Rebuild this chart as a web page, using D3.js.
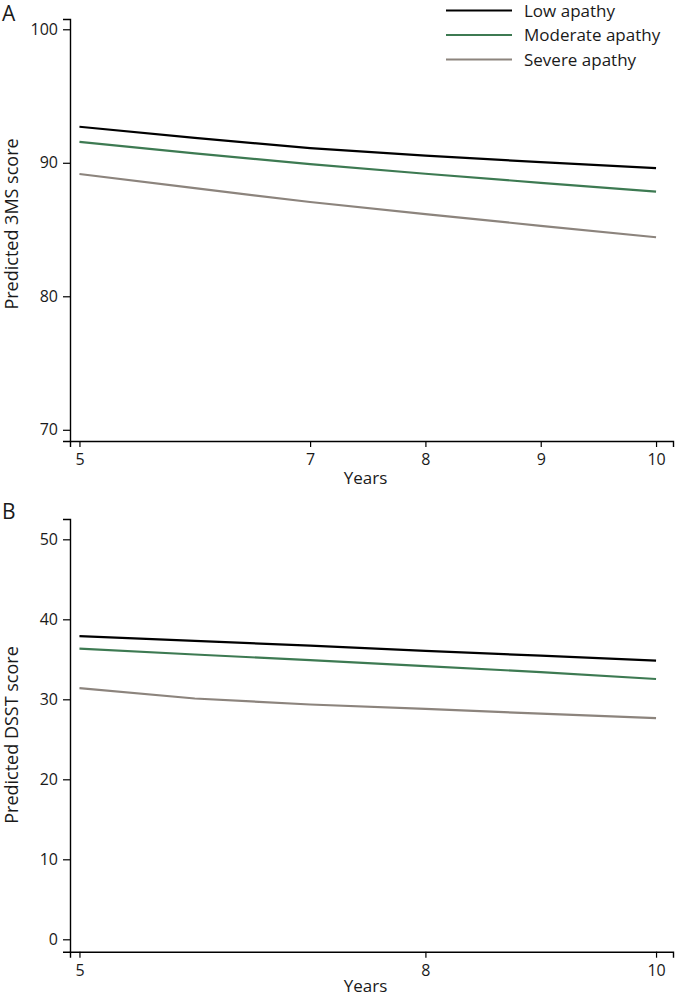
<!DOCTYPE html>
<html>
<head>
<meta charset="utf-8">
<script src="https://cdn.jsdelivr.net/npm/d3@7"></script>
<style>
  html, body { margin: 0; padding: 0; background: #fff; }
  svg text { font-family: "Open Sans", "Noto Sans", sans-serif; fill: #1a1a1a; }
</style>
</head>
<body>
<svg id="chart" width="675" height="996"></svg>
<script>
// ---- data ----
const years = [5, 6, 7, 8, 9, 10];
const seriesNames = ["Low apathy", "Moderate apathy", "Severe apathy"];
const seriesColors = ["#000000", "#3d7a52", "#8c847d"];

// Panel A: Predicted 3MS score
const lowA      = [92.7, 91.86, 91.1, 90.53, 90.05, 89.6];
const moderateA = [91.56, 90.7, 89.9, 89.18, 88.5, 87.84];
const severeA   = [89.16, 88.1, 87.06, 86.15, 85.28, 84.42];
const yTicksA = [70, 80, 90, 100];
const xTicksA = [5, 7, 8, 9, 10];

// Panel B: Predicted DSST score
const lowB      = [37.9, 37.3, 36.7, 36.05, 35.45, 34.83];
const moderateB = [36.33, 35.6, 34.9, 34.15, 33.4, 32.54];
const severeB   = [31.41, 30.1, 29.35, 28.8, 28.2, 27.66];
const yTicksB = [0, 10, 20, 30, 40, 50];
const xTicksB = [5, 8, 10];

const svg = d3.select("#chart");

function panel(cfg) {
  const g = svg.append("g");
  const x = d3.scaleLinear().domain([4.918, 10.147]).range([70, 673]);
  const y = d3.scaleLinear().domain(cfg.yDomain).range([cfg.bottom, cfg.top]);

  const xAxis = g.append("g")
    .attr("transform", `translate(0,${cfg.bottom})`)
    .call(d3.axisBottom(x).tickValues(cfg.xTicks).tickSizeOuter(0).tickSize(6).tickPadding(7).tickFormat(d3.format("d")));
  const yAxis = g.append("g")
    .attr("transform", "translate(70,0)")
    .call(d3.axisLeft(y).tickValues(cfg.yTicks).tickSizeOuter(0).tickSize(7).tickPadding(5).tickFormat(d3.format("d")));
  [xAxis, yAxis].forEach(a => {
    a.selectAll("path.domain").attr("stroke", "#000").attr("stroke-width", 1.4);
    a.selectAll(".tick line").attr("stroke", "#000").attr("stroke-width", 1.2);
    a.selectAll(".tick text").style("font-size", "16px").attr("fill", "#1a1a1a");
  });

  const line = d3.line().x((d, i) => x(years[i])).y(d => y(d));
  cfg.series.forEach((s, i) => {
    g.append("path").datum(s)
      .attr("d", line)
      .attr("fill", "none")
      .attr("stroke", seriesColors[i])
      .attr("stroke-width", 2.2);
  });

  g.append("text")
    .attr("x", (x(4.918) + x(10.147)) / 2 - 6)
    .attr("y", cfg.bottom + cfg.yearsOffset)
    .attr("text-anchor", "middle")
    .style("font-size", "17px")
    .text("Years");

  g.append("text")
    .attr("transform", `translate(18,${cfg.labelY}) rotate(-90)`)
    .attr("text-anchor", "middle")
    .style("font-size", "18px")
    .text(cfg.yLabel);

  g.append("text")
    .attr("x", 2)
    .attr("y", cfg.letterY)
    .style("font-size", "21px")
    .text(cfg.letter);
}

panel({
  top: 19, bottom: 441, yDomain: [69.16, 100.77],
  yTicks: yTicksA, xTicks: xTicksA,
  series: [lowA, moderateA, severeA],
  yLabel: "Predicted 3MS score", labelY: 224, letter: "A", letterY: 21, yearsOffset: 43
});
panel({
  top: 519, bottom: 951.7, yDomain: [-1.55, 52.54],
  yTicks: yTicksB, xTicks: xTicksB,
  series: [lowB, moderateB, severeB],
  yLabel: "Predicted DSST score", labelY: 735, letter: "B", letterY: 519, yearsOffset: 40
});

// legend
const legend = svg.append("g");
seriesNames.forEach((name, i) => {
  const yy = 10.5 + i * 24.5;
  legend.append("line")
    .attr("x1", 446).attr("x2", 512).attr("y1", yy).attr("y2", yy)
    .attr("stroke", seriesColors[i]).attr("stroke-width", 2.2);
  legend.append("text")
    .attr("x", 524).attr("y", yy)
    .attr("dy", "0.38em")
    .style("font-size", "17px")
    .text(name);
});
</script>
</body>
</html>
